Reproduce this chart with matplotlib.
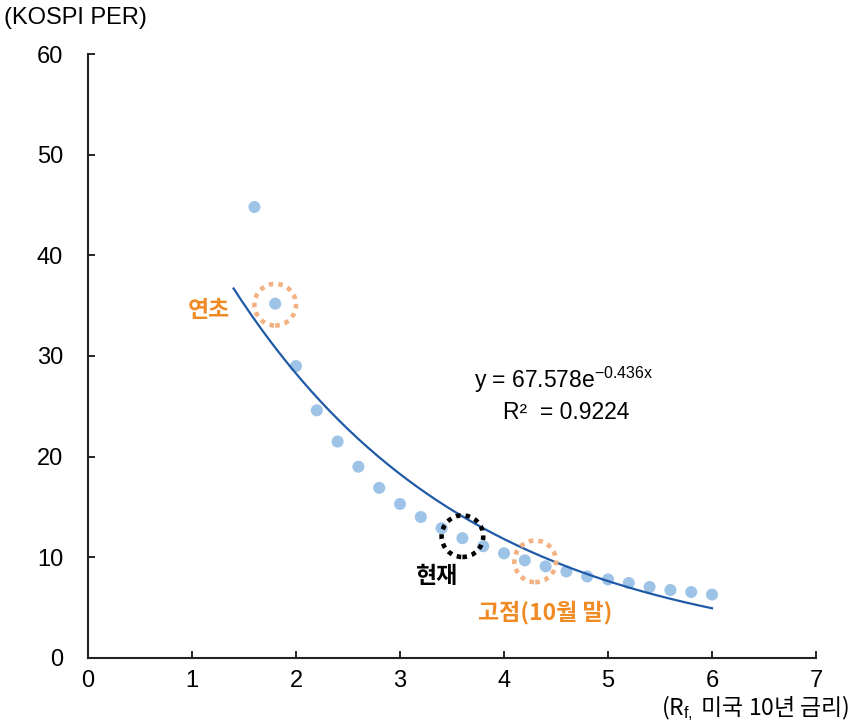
import numpy as np
import matplotlib
matplotlib.use("Agg")
import matplotlib.pyplot as plt

plt.rcParams['font.family'] = ['Liberation Sans', 'Noto Sans CJK KR']
plt.rcParams['mathtext.fontset'] = 'custom'
plt.rcParams['mathtext.rm'] = 'Liberation Sans'
plt.rcParams['mathtext.it'] = 'Liberation Sans'
plt.rcParams['mathtext.bf'] = 'Liberation Sans:bold'

# data
rate = [1.6, 1.8, 2.0, 2.2, 2.4, 2.6, 2.8, 3.0, 3.2, 3.4, 3.6, 3.8, 4.0, 4.2,
        4.4, 4.6, 4.8, 5.0, 5.2, 5.4, 5.6, 5.8, 6.0]
per = [44.8, 35.2, 29.0, 24.6, 21.5, 19.0, 16.9, 15.3, 14.0, 12.9, 11.9, 11.1,
       10.4, 9.7, 9.1, 8.6, 8.1, 7.8, 7.45, 7.05, 6.75, 6.55, 6.3]
fit_a = 67.578
fit_b = -0.436
fit_range = [1.4, 6.0]
r2 = 0.9224
xticks = [0, 1, 2, 3, 4, 5, 6, 7]
yticks = [0, 10, 20, 30, 40, 50, 60]
highlights = [  # (x, y, color, label, label_x, label_y, label_color)
    (1.8, 35.1, '#F4B183', '연초', 0.96, 34.5, '#F08A24'),
    (3.6, 12.1, '#000000', '현재', 3.14, 8.1, '#000000'),
    (4.3, 9.6, '#F4B183', '고점(10월 말)', 3.75, 4.5, '#F08A24'),
]

fig = plt.figure(figsize=(8.68, 7.24), dpi=100)
ax = fig.add_axes([0.1014, 0.0912, 0.8387, 0.8342])

ax.scatter(rate, per, s=75, color='#9DC3E6', edgecolors='none', zorder=2)

xf = np.linspace(fit_range[0], fit_range[1], 200)
ax.plot(xf, fit_a * np.exp(fit_b * xf), color='#1F5AA6', lw=1.6, zorder=3)

for hx, hy, hc, lab, lx, ly, lc in highlights:
    ax.scatter([hx], [hy], s=900, facecolors='none', edgecolors=hc,
               linewidths=3.3, linestyles=(0, (1, 1.1)), zorder=4)
    ax.text(lx, ly, lab, color=lc, fontsize=16.5, fontweight='bold',
            family=['Noto Sans CJK KR', 'DejaVu Sans'],
            ha='left', va='center')

ax.text(4.57, 27.6, 'y = 67.578e$^{-0.436x}$', fontsize=16.5, ha='center', va='center')
ax.text(4.6, 24.4, 'R\u00b2  = %.4f' % r2, fontsize=16.5, ha='center', va='center')

ax.set_xlim(0, 7)
ax.set_ylim(0, 60)
ax.set_xticks(xticks)
ax.set_yticks(yticks)
ax.tick_params(direction='in', length=5, width=1.2, labelsize=17, colors='#000000')
ax.tick_params(axis='y', pad=18)
ax.tick_params(axis='x', pad=9)
for s in ['top', 'right']:
    ax.spines[s].set_visible(False)
for s in ['left', 'bottom']:
    ax.spines[s].set_linewidth(1.5)
    ax.spines[s].set_color('#222222')

fig.text(0.005, 0.975, '(KOSPI PER)', fontsize=17, ha='left', va='center')
fig.text(0.979, 0.022, '(R$_{\\mathrm{f,}}$ 미국 10년 금리)', fontsize=16.5,
         family=['Noto Sans CJK KR'], ha='right', va='center')

fig.savefig('out.png', dpi=100)
